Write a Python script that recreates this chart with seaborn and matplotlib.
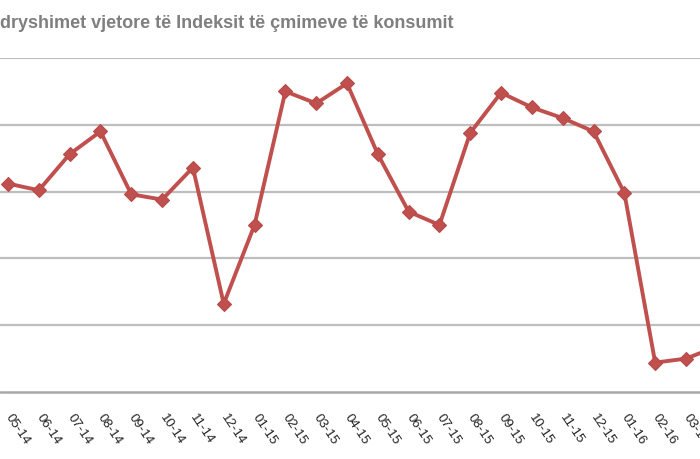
import matplotlib
matplotlib.use("Agg")
import matplotlib.pyplot as plt
import seaborn as sns
import pandas as pd

title = "dryshimet vjetore të Indeksit të çmimeve të konsumit"
months = ["05-14", "06-14", "07-14", "08-14", "09-14", "10-14", "11-14", "12-14",
          "01-15", "02-15", "03-15", "04-15", "05-15", "06-15", "07-15", "08-15",
          "09-15", "10-15", "11-15", "12-15", "01-16", "02-16", "03-16", "04-16"]
values = [1.56, 1.51, 1.78, 1.95, 1.48, 1.44, 1.68, 0.66,
          1.25, 2.25, 2.16, 2.31, 1.78, 1.35, 1.25, 1.94,
          2.24, 2.13, 2.05, 1.95, 1.49, 0.22, 0.25, 0.34]
grid_levels = [0.0, 0.5, 1.0, 1.5, 2.0, 2.5]

df = pd.DataFrame({"pos": range(len(months)), "value": values})

sns.set_theme(style="white")
plt.rcParams["font.family"] = ["Liberation Sans", "DejaVu Sans"]

fig = plt.figure(figsize=(7, 4.6), dpi=100)
W, H = 700, 460
ax = fig.add_axes([0, (H - 393) / H, 1.0, (393 - 59) / H])

sns.lineplot(data=df, x="pos", y="value", ax=ax, color="#C0504D", linewidth=2.8,
             marker="D", markersize=7.5, markeredgecolor="#B84A47",
             markeredgewidth=0.8)

for g in grid_levels[1:]:
    ax.axhline(g, color="#BEBEBE", linewidth=1.6, zorder=0)
ax.axhline(grid_levels[0], color="#A8A8A8", linewidth=1.8, zorder=0, clip_on=False)

for s in ax.spines.values():
    s.set_visible(False)
ax.set_yticks([])
ax.set_xticks(range(len(months)))
ax.set_xticklabels(months)
ax.tick_params(axis="x", length=0, pad=16, labelsize=9.5, labelcolor="#222222")
for lab in ax.get_xticklabels():
    lab.set_rotation(-56)
    lab.set_ha("left")
    lab.set_va("center")
    lab.set_rotation_mode("anchor")
ax.set_xlabel("")
ax.set_ylabel("")

px_per = (686 - 8) / 22
ax.set_xlim(-8 / px_per, 22 + 14 / px_per)
ax.set_ylim(grid_levels[0], grid_levels[-1])

fig.text(0.0, (H - 24) / H, title, ha="left", va="center", fontsize=13,
         fontweight="bold", color="#7F7F7F")

fig.savefig("out.png", dpi=100)
